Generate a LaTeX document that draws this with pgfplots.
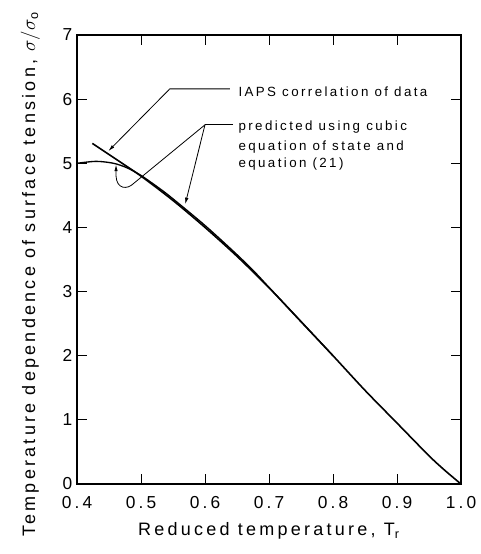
\documentclass[border=0pt]{standalone}
\usepackage{fontspec}
\setmainfont{Liberation Sans}[LetterSpace=18]
\usepackage{pgfplots}
\pgfplotsset{compat=1.18}
\usetikzlibrary{arrows.meta,calc}

\begin{document}
\begin{tikzpicture}
  \begin{axis}[
    scale only axis,
    width=288pt, height=336.75pt,
    xmin=0.4, xmax=1.0,
    ymin=0, ymax=7,
    xtick={0.4,0.5,...,1.0},
    ytick={0,1,...,7},
    xticklabel style={yshift=-5.5pt,/pgf/number format/.cd,fixed,fixed zerofill,precision=1},
    /pgf/number format/assume math mode=true,
    tick label style={font=\fontsize{13}{15}\selectfont},
    tick align=inside,
    major tick length=7.5pt,
    axis line style={line width=0.9pt},
    tick style={line width=0.7pt,black},
    xlabel={Reduced temperature, T\textsubscript{r}},
    ylabel={Temperature dependence of surface tension, $\sigma/\sigma$\textsubscript{o}},
    label style={font=\fontsize{13.5}{15}\selectfont},
    xlabel style={at={(axis description cs:0.5,0)},anchor=center,yshift=-35pt},
    ylabel style={at={(axis description cs:0,0.5)},anchor=center,xshift=-11pt,yshift=35pt},
    clip=false
  ]
    % IAPS correlation of data
    \addplot[black,line width=1.2pt,smooth] coordinates {
      (0.424,5.31) (0.46,5.07) (0.50,4.80) (0.55,4.42) (0.60,4.00)
      (0.65,3.55) (0.70,3.06) (0.75,2.53) (0.80,2.00) (0.85,1.46)
      (0.90,0.95) (0.95,0.44) (0.975,0.21) (1.00,0.00)
    };
    % predicted, cubic equation of state and equation (21)
    \addplot[black,line width=1.0pt,smooth] coordinates {
      (0.40,5.00) (0.43,5.03) (0.457,5.00) (0.478,4.93) (0.50,4.81)
      (0.53,4.60) (0.55,4.445) (0.60,4.03) (0.65,3.575) (0.68,3.28)
      (0.70,3.065) (0.75,2.535) (0.80,2.00)
    };

    \draw[line width=0.6pt,-{Latex[length=5pt,width=2.6pt]}]
      (axis cs:0.639,6.16) -- (axis cs:0.545,6.16) -- (axis cs:0.449,5.19);
    \node[anchor=base west,inner sep=0,font=\fontsize{10}{12}\selectfont]
      at (axis cs:0.652,6.045) {IAPS correlation of data};

    \draw[line width=0.6pt] (axis cs:0.644,5.60) -- (axis cs:0.600,5.60);
    \draw[line width=0.6pt,-{Latex[length=5pt,width=2.6pt]}]
      (axis cs:0.600,5.60) -- (axis cs:0.569,4.36);
    \draw[line width=0.6pt,-{Latex[length=5pt,width=2.6pt]}]
      (axis cs:0.600,5.60) -- (axis cs:0.489,4.69)
      .. controls (axis cs:0.478,4.58) and (axis cs:0.462,4.60) .. (axis cs:0.461,4.80)
      -- (axis cs:0.461,4.98);
    \node[anchor=base west,inner sep=0,font=\fontsize{10}{12}\selectfont]
      at (axis cs:0.652,5.515) {predicted using cubic};
    \node[anchor=base west,inner sep=0,font=\fontsize{10}{12}\selectfont]
      at (axis cs:0.652,5.20) {equation of state and};
    \node[anchor=base west,inner sep=0,font=\fontsize{10}{12}\selectfont]
      at (axis cs:0.652,4.94) {equation (21)};
  \end{axis}
  \path ($(current axis.south west)+(-57.75pt,-52.5pt)$) rectangle ($(current axis.north east)+(14.25pt,26.25pt)$);
\end{tikzpicture}
\end{document}
